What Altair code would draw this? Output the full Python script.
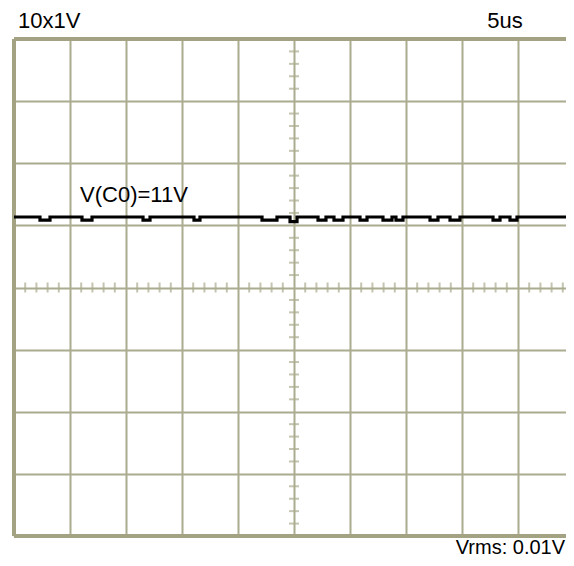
import altair as alt
import pandas as pd

# ---- data ----
X_MAX = 552 / 56.0                                 # visible part of the 10 time divisions
h_divs = list(range(0, 10))                        # vertical grid lines (time divisions)
v_levels = [-30, -20, -10, 0, 10, 20, 30]          # horizontal grid lines (volts, 10 V/div)
minor_x = [round(i * 0.2, 1) for i in range(0, 50) if i % 5 != 0]
minor_y = [round(-40 + i * 2.0, 1) for i in range(0, 41) if i % 5 != 0]

# trace of V(C0): steady ~11.35 V with small dips
trace_x = [0.0, 0.464, 0.643, 1.214, 1.393, 2.304, 2.429, 3.214, 3.321,
           4.429, 4.696, 4.929, 5.054, 5.429, 5.571, 5.714, 5.875,
           6.179, 6.304, 6.589, 6.75, 6.821, 6.946, 7.429, 7.571,
           7.786, 7.964, 8.554, 8.679, 8.857, 8.982, 9.893, 10.0]
trace_y = [11.35, 10.85, 11.35, 10.85, 11.35, 10.85, 11.35, 10.85, 11.35,
           10.85, 11.35, 10.6, 11.35, 10.85, 11.35, 10.85, 11.35,
           10.85, 11.35, 10.85, 11.35, 10.85, 11.35, 10.85, 11.35,
           10.85, 11.35, 10.85, 11.35, 10.85, 11.35, 10.85, 10.85]

labels_left = ["10x1V", "V(C0)=11V"]
left_x = [0.071, 1.179]
left_y = [41.77, 13.76]
label_top_right = ["5us"]
tr_x = [8.768]
tr_y = [41.77]
label_bottom_right = ["Vrms: 0.01V"]
br_x = [9.84]
br_y = [-42.9]

# ---- style ----
grid_color = "#ABAB8F"
border_color = "#A3A384"
font = "Liberation Sans, Arial, sans-serif"
fsize = 22

X = alt.X("x:Q", scale=alt.Scale(domain=[0, X_MAX], nice=False, zero=False),
          axis=alt.Axis(values=h_divs, grid=True, labels=False, ticks=False,
                        domain=False, title=None, gridColor=grid_color,
                        gridWidth=2, gridOpacity=1))
Y = alt.Y("y:Q", scale=alt.Scale(domain=[-40, 40], nice=False, zero=False),
          axis=alt.Axis(values=v_levels, grid=True, labels=False, ticks=False,
                        domain=False, title=None, gridColor=grid_color,
                        gridWidth=2, gridOpacity=1))

trace_df = pd.DataFrame({"x": trace_x, "y": trace_y})
trace = alt.Chart(trace_df).mark_line(
    color="black", strokeWidth=3.2, interpolate="step-after", clip=True
).encode(x=X, y=Y)

mx_df = pd.DataFrame({"x": minor_x, "y": [0.0] * len(minor_x)})
mticks_x = alt.Chart(mx_df).mark_tick(
    orient="vertical", color=grid_color, size=10, thickness=2
).encode(x=X, y=Y)

my_df = pd.DataFrame({"x": [5.0] * len(minor_y), "y": minor_y})
mticks_y = alt.Chart(my_df).mark_tick(
    orient="horizontal", color=grid_color, size=10, thickness=2
).encode(x=X, y=Y)

border_left = alt.Chart(pd.DataFrame({"x": [0.0]})).mark_rule(
    color=border_color, strokeWidth=4).encode(x=X)
border_tb = alt.Chart(pd.DataFrame({"y": [-40.0, 40.0]})).mark_rule(
    color=border_color, strokeWidth=4).encode(y=Y)

t_left = alt.Chart(pd.DataFrame({"x": left_x, "y": left_y, "label": labels_left})).mark_text(
    align="left", baseline="alphabetic", font=font, fontSize=fsize, color="black"
).encode(x=X, y=Y, text="label:N")
t_tr = alt.Chart(pd.DataFrame({"x": tr_x, "y": tr_y, "label": label_top_right})).mark_text(
    align="center", baseline="alphabetic", font=font, fontSize=fsize, color="black"
).encode(x=X, y=Y, text="label:N")
t_br = alt.Chart(pd.DataFrame({"x": br_x, "y": br_y, "label": label_bottom_right})).mark_text(
    align="right", baseline="alphabetic", font=font, fontSize=20, color="black"
).encode(x=X, y=Y, text="label:N")

chart = alt.layer(mticks_x, mticks_y, border_left, border_tb, trace,
                  t_left, t_tr, t_br).properties(
    width=552, height=497,
    padding={"left": 6, "top": 31, "right": 0, "bottom": 22},
    autosize="none",
    background="white",
).configure_view(stroke=None)

chart.save("out.html", embed_options={"renderer": "svg", "actions": False})
